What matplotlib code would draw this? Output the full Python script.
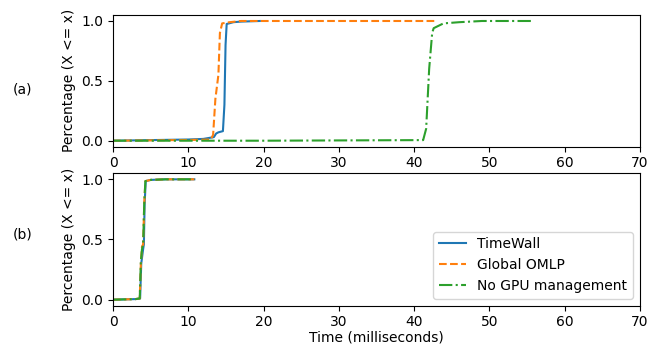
import matplotlib
matplotlib.use("Agg")
import matplotlib.pyplot as plt

# Panel (a)
a_timewall_x = [0, 5, 10, 12, 13.4, 13.7, 14.0, 14.6, 14.8, 14.95, 15.1, 16, 17, 19.5]
a_timewall_y = [0, 0.005, 0.01, 0.015, 0.03, 0.06, 0.07, 0.08, 0.3, 0.8, 0.975, 0.99, 0.995, 1.0]
a_omlp_x = [0, 5, 10, 13.0, 13.3, 13.6, 13.8, 14.0, 14.2, 14.5, 15.5, 17, 42.8]
a_omlp_y = [0, 0.003, 0.006, 0.01, 0.05, 0.35, 0.45, 0.55, 0.9, 0.98, 0.99, 1.0, 1.0]
a_nogpu_x = [0, 20, 41.2, 41.6, 42.0, 42.4, 42.6, 43.9, 46, 49, 55.6]
a_nogpu_y = [0, 0, 0.005, 0.1, 0.6, 0.9, 0.94, 0.98, 0.99, 1.0, 1.0]

# Panel (b)
b_timewall_x = [0, 3.0, 3.6, 3.75, 4.0, 4.1, 4.2, 4.35, 5, 7, 10.8]
b_timewall_y = [0, 0.005, 0.01, 0.3, 0.42, 0.46, 0.8, 0.985, 0.995, 1.0, 1.0]
b_omlp_x = [0, 3.0, 3.55, 3.7, 3.85, 4.0, 4.15, 4.3, 5, 7, 10.8]
b_omlp_y = [0, 0.005, 0.01, 0.3, 0.44, 0.46, 0.8, 0.985, 0.995, 1.0, 1.0]
b_nogpu_x = [0, 3.0, 3.55, 3.7, 3.85, 4.0, 4.15, 4.3, 5, 7, 10.8]
b_nogpu_y = [0, 0.005, 0.01, 0.32, 0.42, 0.46, 0.8, 0.985, 0.995, 1.0, 1.0]

labels = ["TimeWall", "Global OMLP", "No GPU management"]
styles = ["-", "--", "-."]
colors = ["#1f77b4", "#ff7f0e", "#2ca02c"]
xticks = [0, 10, 20, 30, 40, 50, 60, 70]
yticks = [0.0, 0.5, 1.0]

fig = plt.figure(figsize=(6.51, 3.45), dpi=100)
ax1 = fig.add_axes([0.1736, 0.5748, 0.8094, 0.3817])
ax2 = fig.add_axes([0.1736, 0.1139, 0.8094, 0.3838])

panels = [
    (ax1, [(a_timewall_x, a_timewall_y), (a_omlp_x, a_omlp_y), (a_nogpu_x, a_nogpu_y)]),
    (ax2, [(b_timewall_x, b_timewall_y), (b_omlp_x, b_omlp_y), (b_nogpu_x, b_nogpu_y)]),
]
for ax, series in panels:
    for (x, y), lab, ls, c in zip(series, labels, styles, colors):
        ax.plot(x, y, ls, color=c, label=lab, linewidth=1.5)
    ax.set_xlim(0, 70)
    ax.set_ylim(-0.05, 1.05)
    ax.set_xticks(xticks)
    ax.set_yticks(yticks)
    ax.set_ylabel("Percentage (X <= x)")

ax2.set_xlabel("Time (milliseconds)", labelpad=1)
ax2.legend(loc="lower right")

fig.text(0.035, 0.742, "(a)", fontsize=10, va="center", ha="center")
fig.text(0.035, 0.32, "(b)", fontsize=10, va="center", ha="center")

fig.savefig("out.png", dpi=100)
